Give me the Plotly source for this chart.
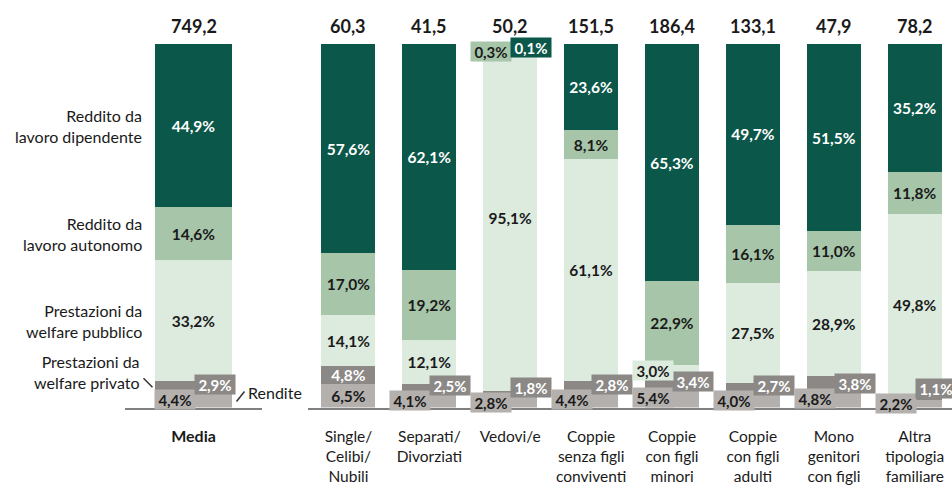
import plotly.graph_objects as go

# ---------------- data ----------------
categories = ["Media", "Single/<br>Celibi/<br>Nubili", "Separati/<br>Divorziati", "Vedovi/e",
              "Coppie<br>senza figli<br>conviventi", "Coppie<br>con figli<br>minori",
              "Coppie<br>con figli<br>adulti", "Mono<br>genitori<br>con figli",
              "Altra<br>tipologia<br>familiare"]
totals = [749.2, 60.3, 41.5, 50.2, 151.5, 186.4, 133.1, 47.9, 78.2]
rendite = [4.4, 6.5, 4.1, 2.8, 4.4, 5.4, 4.0, 4.8, 2.2]
welfare_privato = [2.9, 4.8, 2.5, 1.8, 2.8, 3.4, 2.7, 3.8, 1.1]
welfare_pubblico = [33.2, 14.1, 12.1, 95.1, 61.1, 3.0, 27.5, 28.9, 49.8]
lavoro_autonomo = [14.6, 17.0, 19.2, 0.3, 8.1, 22.9, 16.1, 11.0, 11.8]
lavoro_dipendente = [44.9, 57.6, 62.1, 0.1, 23.6, 65.3, 49.7, 51.5, 35.2]
series_names = ["Rendite", "Prestazioni da<br>welfare privato", "Prestazioni da<br>welfare pubblico",
                "Reddito da<br>lavoro autonomo", "Reddito da<br>lavoro dipendente"]

# ---------------- style ----------------
C_LGRAY = "#b3b0ad"
C_DGRAY = "#8b8886"
C_LGREEN = "#dcebde"
C_MGREEN = "#a7c5a9"
C_DGREEN = "#0b5749"
DARK = "#1a1a1a"
WHITE = "#ffffff"
FONT = "Lato"

colors = [C_LGRAY, C_DGRAY, C_LGREEN, C_MGREEN, C_DGREEN]
txtcolors = [DARK, WHITE, DARK, DARK, WHITE]
sides = ["left", "right", "left", "left", "right"]
values = [rendite, welfare_privato, welfare_pubblico, lavoro_autonomo, lavoro_dipendente]


def fmt(v):
    return f"{v:.1f}".replace(".", ",") + "%"


fig = go.Figure()

groups = [([0], "x", 0.555), (list(range(1, len(categories))), "x2", 0.667)]

annotations = []
for s, vals in enumerate(values):
    for idxs, xa, w in groups:
        xs = [categories[i] for i in idxs]
        ys = [vals[i] for i in idxs]
        texts = []
        for i in idxs:
            v = vals[i]
            if s < 2:
                inside = rendite[i] >= 6
            else:
                inside = v >= 5
            texts.append(f"<b>{fmt(v)}</b>" if inside else "")
        fig.add_trace(go.Bar(
            x=xs, y=ys, xaxis=xa, yaxis="y", width=w,
            marker=dict(color=colors[s], line=dict(width=0)),
            text=texts, texttemplate="%{text}", textposition="inside",
            insidetextanchor="middle", textangle=0, constraintext="none",
            textfont=dict(family=FONT, size=15.5, color=txtcolors[s]),
            name=series_names[s], showlegend=False, hoverinfo="skip"))

# offset labels for small segments
for i, cat in enumerate(categories):
    xa = "x" if i == 0 else "x2"
    r, p, pub, aut, dip = (rendite[i], welfare_privato[i], welfare_pubblico[i],
                           lavoro_autonomo[i], lavoro_dipendente[i])
    cum = [0, r, r + p, r + p + pub, r + p + pub + aut]
    for s, vals in enumerate(values):
        v = vals[i]
        if s < 2:
            if r >= 6:
                continue
        elif v >= 5:
            continue
        yc = cum[s] + v / 2
        if s == 1:
            yc = max(yc, r / 2 + 4.0)
        if s == 3:
            yc = min(yc, 100 - 2.0)
        if s == 4:
            yc = min(yc, 100 - 1.0)
        left = sides[s] == "left"
        annotations.append(dict(
            x=cat, xref=xa, y=yc, yref="y", text=f"<b>{fmt(v)}</b>", showarrow=False,
            xanchor="right" if left else "left", yanchor="middle",
            xshift=2 if left else 0,
            bgcolor=colors[s], borderpad=1, width=38, height=17,
            font=dict(family=FONT, size=15, color=txtcolors[s])))

# totals above bars
for i, cat in enumerate(categories):
    annotations.append(dict(
        x=cat, xref="x" if i == 0 else "x2", y=100, yref="y", yanchor="bottom", yshift=5,
        text=f"<b>{totals[i]:.1f}</b>".replace(".", ","), showarrow=False,
        font=dict(family=FONT, size=18, color=DARK)))

# series labels on the left, aligned to the Media bar
r0, p0, pub0, aut0, dip0 = (rendite[0], welfare_privato[0], welfare_pubblico[0],
                            lavoro_autonomo[0], lavoro_dipendente[0])
centers = [r0 / 2, r0 + p0 / 2, r0 + p0 + pub0 / 2, r0 + p0 + pub0 + aut0 / 2,
           r0 + p0 + pub0 + aut0 + dip0 / 2]
for s in [4, 3, 2]:
    annotations.append(dict(
        x=144 / 952, xref="paper", y=centers[s], yref="y", xanchor="right", yanchor="middle",
        text=series_names[s], showarrow=False, align="right",
        font=dict(family=FONT, size=16, color=DARK)))
annotations.append(dict(
    x=142 / 952, xref="paper", y=centers[1], yref="y", yshift=14, xanchor="right",
    yanchor="middle", text=series_names[1], showarrow=False, align="right",
    font=dict(family=FONT, size=16, color=DARK)))
annotations.append(dict(
    x=categories[0], xref="x", xshift=52, y=centers[0], yref="y", yshift=7, xanchor="left",
    yanchor="middle", text=series_names[0], showarrow=False,
    font=dict(family=FONT, size=16, color=DARK)))

shapes = [
    dict(type="line", xref="x", xsizemode="pixel", xanchor=0, x0=-50, x1=-41,
         yref="y", ysizemode="pixel", yanchor=centers[1], y0=8, y1=-1,
         line=dict(color="#333333", width=1.5)),
    dict(type="line", xref="x", xsizemode="pixel", xanchor=0, x0=43, x1=51,
         yref="y", ysizemode="pixel", yanchor=centers[0], y0=-2, y1=8,
         line=dict(color="#333333", width=1.5)),
]

axis_common = dict(showline=True, linecolor="#808080", linewidth=1.5, showgrid=False,
                   zeroline=False, ticks="", ticklabelstandoff=14,
                   tickfont=dict(family=FONT, size=15.5, color=DARK), fixedrange=True)

fig.update_layout(
    width=952, height=489, margin=dict(l=0, r=0, t=0, b=0),
    paper_bgcolor="white", plot_bgcolor="white",
    barmode="stack", annotations=annotations, shapes=shapes,
    xaxis=dict(domain=[125 / 952, 262 / 952], range=[-0.5, 0.5], anchor="y",
               type="category", tickvals=[categories[0]], ticktext=["<b>Media</b>"],
               **{**axis_common, "tickfont": dict(family=FONT, size=16, color=DARK)}),
    xaxis2=dict(domain=[308 / 952, 1], range=[-0.5, 7.46], anchor="y", type="category",
                **axis_common),
    yaxis=dict(domain=[81.5 / 489, 445 / 489], range=[0, 100], visible=False, fixedrange=True),
    font=dict(family=FONT),
)

fig.write_html("out.html")
